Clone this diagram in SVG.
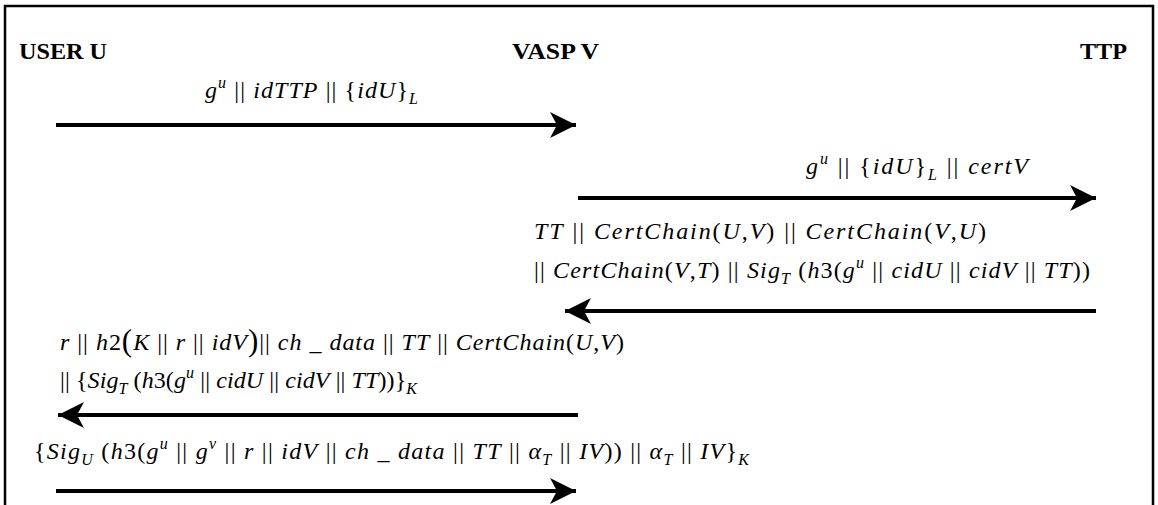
<svg xmlns="http://www.w3.org/2000/svg" width="1158" height="505" viewBox="0 0 1158 505">
<style>
.h{font-family:"Liberation Serif","Times New Roman",serif;font-weight:bold;font-size:24px;fill:#000}
.m{font-family:"Liberation Serif","Times New Roman",serif;font-size:24px;fill:#000}
.i{font-style:italic}
.s{font-size:16px}
.big{font-size:31px}
.ln{stroke:#000;stroke-width:4;fill:none;marker-end:url(#ah)}
.lbl{opacity:0.995}
</style>
<defs>
<marker id="ah" markerUnits="userSpaceOnUse" markerWidth="28" markerHeight="28" refX="26" refY="13" orient="auto">
<path d="M0,0 L26,13 L0,26 L7,13 Z" fill="#000"/>
</marker>
</defs>
<rect width="1158" height="505" fill="#fff"/>
<path d="M5,506 V6 H1153 V506" fill="none" stroke="#000" stroke-width="2.5"/>
<g id="user"><text class="h" x="19" y="59" textLength="88" lengthAdjust="spacingAndGlyphs">USER U</text></g>
<g id="vasp"><text class="h" x="512" y="59" textLength="87" lengthAdjust="spacingAndGlyphs">VASP V</text></g>
<g id="ttp"><text class="h" x="1080" y="59" textLength="47" lengthAdjust="spacingAndGlyphs">TTP</text></g>
<g id="connectors">
<line class="ln" x1="56" y1="125" x2="576" y2="125"/>
<line class="ln" x1="578" y1="198" x2="1096" y2="198"/>
<line class="ln" x1="1096" y1="311" x2="565" y2="311"/>
<line class="ln" x1="578" y1="415" x2="58" y2="415"/>
<line class="ln" x1="56" y1="491" x2="576" y2="491"/>
<g class="lbl">
<text class="m" x="205" y="98" textLength="213" lengthAdjust="spacing"><tspan class="i">g</tspan><tspan class="i s" dy="-10">u</tspan><tspan dy="10"> || </tspan><tspan class="i">idTTP</tspan> || {<tspan class="i">idU</tspan>}<tspan class="i s" dy="6">L</tspan></text>
<text class="m" x="806" y="174" textLength="222" lengthAdjust="spacing"><tspan class="i">g</tspan><tspan class="i s" dy="-10">u</tspan><tspan dy="10"> || {</tspan><tspan class="i">idU</tspan>}<tspan class="i s" dy="6">L</tspan><tspan dy="-6"> || </tspan><tspan class="i">certV</tspan></text>
<text class="m" x="534" y="239" textLength="452" lengthAdjust="spacing"><tspan class="i">TT</tspan> || <tspan class="i">CertChain</tspan>(<tspan class="i">U</tspan>,<tspan class="i">V</tspan>) || <tspan class="i">CertChain</tspan>(<tspan class="i">V</tspan>,<tspan class="i">U</tspan>)</text>
<text class="m" x="534" y="278" textLength="556" lengthAdjust="spacing">|| <tspan class="i">CertChain</tspan>(<tspan class="i">V</tspan>,<tspan class="i">T</tspan>) || <tspan class="i">Sig</tspan><tspan class="i s" dy="6">T</tspan><tspan dy="-6"> (</tspan><tspan class="i">h</tspan>3(<tspan class="i">g</tspan><tspan class="i s" dy="-10">u</tspan><tspan dy="10"> || </tspan><tspan class="i">cidU</tspan> || <tspan class="i">cidV</tspan> || <tspan class="i">TT</tspan>))</text>
<text class="m" x="60" y="350" textLength="564" lengthAdjust="spacing"><tspan class="i">r</tspan> || <tspan class="i">h</tspan>2<tspan class="big" dy="1">(</tspan><tspan class="i" dy="-1">K</tspan> || <tspan class="i">r</tspan> || <tspan class="i">idV</tspan><tspan class="big" dy="1">)</tspan><tspan dy="-1">|| </tspan><tspan class="i">ch</tspan> _ <tspan class="i">data</tspan> || <tspan class="i">TT</tspan> || <tspan class="i">CertChain</tspan>(<tspan class="i">U</tspan>,<tspan class="i">V</tspan>)</text>
<text class="m" x="60" y="388" textLength="357" lengthAdjust="spacing">|| {<tspan class="i">Sig</tspan><tspan class="i s" dy="6">T</tspan><tspan dy="-6"> (</tspan><tspan class="i">h</tspan>3(<tspan class="i">g</tspan><tspan class="i s" dy="-10">u</tspan><tspan dy="10"> || </tspan><tspan class="i">cidU</tspan> || <tspan class="i">cidV</tspan> || <tspan class="i">TT</tspan>))}<tspan class="i s" dy="6">K</tspan></text>
<text class="m" x="34" y="459" textLength="715" lengthAdjust="spacing">{<tspan class="i">Sig</tspan><tspan class="i s" dy="6">U</tspan><tspan dy="-6"> (</tspan><tspan class="i">h</tspan>3(<tspan class="i">g</tspan><tspan class="i s" dy="-10">u</tspan><tspan dy="10"> || </tspan><tspan class="i">g</tspan><tspan class="i s" dy="-10">v</tspan><tspan dy="10"> || </tspan><tspan class="i">r</tspan> || <tspan class="i">idV</tspan> || <tspan class="i">ch</tspan> _ <tspan class="i">data</tspan> || <tspan class="i">TT</tspan> || <tspan class="i">α</tspan><tspan class="i s" dy="6">T</tspan><tspan dy="-6"> || </tspan><tspan class="i">IV</tspan>)) || <tspan class="i">α</tspan><tspan class="i s" dy="6">T</tspan><tspan dy="-6"> || </tspan><tspan class="i">IV</tspan>}<tspan class="i s" dy="6">K</tspan></text>
</g>
</g>
</svg>
